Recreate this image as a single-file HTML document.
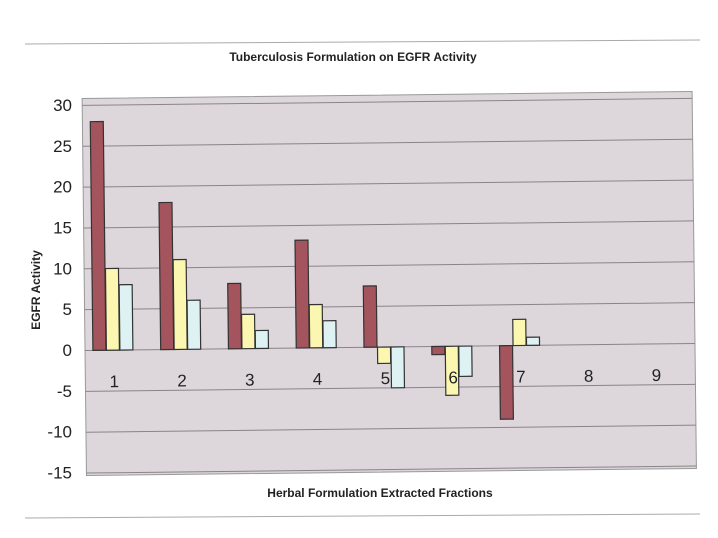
<!DOCTYPE html>
<html><head><meta charset="utf-8"><style>
body{margin:0;background:#fff;}
svg{display:block;font-family:"Liberation Sans",sans-serif;}
</style></head><body>
<svg width="718" height="538">
<line x1="25" y1="44" x2="700" y2="40" stroke="#aaa" stroke-width="1"/>
<line x1="25" y1="518" x2="700" y2="514" stroke="#aaa" stroke-width="1"/>
<text x="353" y="61" text-anchor="middle" font-size="12" font-weight="bold" fill="#222">Tuberculosis Formulation on EGFR Activity</text>
<text x="380" y="497" text-anchor="middle" font-size="12" font-weight="bold" fill="#222">Herbal Formulation Extracted Fractions</text>
<text transform="translate(40,290) rotate(-90)" text-anchor="middle" font-size="12" font-weight="bold" fill="#222">EGFR Activity</text>
<g id="yticks"></g>
<g id="plot" transform="rotate(-0.66 389 347)"></g>
</svg>
<script>
const categories=["1","2","3","4","5","6","7","8","9"];
const series1=[28,18,8,13.2,7.5,-1,-9,0,0];
const series2=[10,11,4.2,5.3,-2,-6,3.2,0,0];
const series3=[8,6,2.2,3.3,-5,-3.7,1,0,0];
const yTicks=[30,25,20,15,10,5,0,-5,-10,-15];
const NS="http://www.w3.org/2000/svg";
const L=85,R=695,T=95,B=472,yMax=32,yMin=-15;
const y0=347;
function y(v){return y0-v*8.17;}
const bw=(R-L)/categories.length;
function xc(i){return L+bw*(i+0.5)-6;}
function mk(tag,attrs,parent){const e=document.createElementNS(NS,tag);for(const k in attrs)e.setAttribute(k,attrs[k]);parent.appendChild(e);return e;}
const plot=document.getElementById('plot');
const yt=document.getElementById('yticks');
const bg=mk('rect',{x:L,y:T,width:R-L,height:B-T,fill:'#ddd7dc',stroke:'#999'},plot);


yTicks.forEach(v=>{
 const g=mk('line',{x1:L,x2:R,y1:y(v),y2:y(v),stroke:'#8a8488','stroke-width':1},plot);
 
 
 const t=mk('text',{x:72,y:y(v)+9,'text-anchor':'end','font-size':17,fill:'#222'},yt);
 t.textContent=v;
 
 
});
const cols=['#a3545c','#fbf6b0','#dff2f3'];
const series=[series1,series2,series3];
categories.forEach((c,i)=>{
 series.forEach((s,j)=>{
  const v=s[i]; if(v===0)return;
  const x=xc(i)-20+j*13.5;
  const r=mk('rect',{x:x,y:Math.min(y(v),y0),width:13,height:Math.abs(y(v)-y0),fill:cols[j],stroke:'#333','stroke-width':1.2},plot);
  
  
 });
 const t=mk('text',{x:xc(i)+1,y:y0+37,'text-anchor':'middle','font-size':17,fill:'#222'},plot);
 t.textContent=c;
 
 
});
</script>
</body></html>
